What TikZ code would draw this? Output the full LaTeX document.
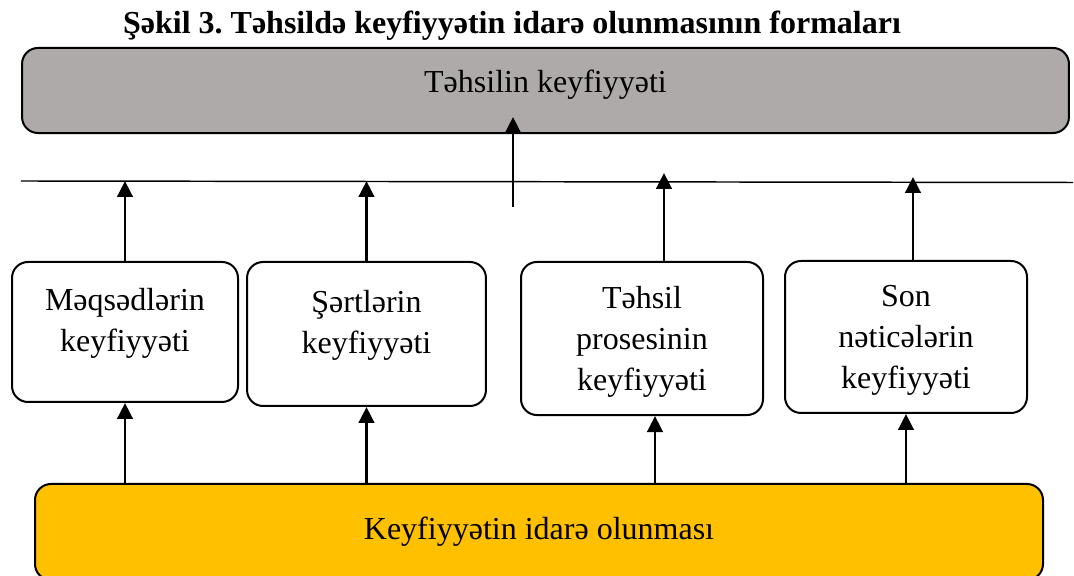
\documentclass[tikz,border=0pt]{standalone}
\usepackage{fontspec}
\setmainfont{Liberation Serif}
\frenchspacing
\usetikzlibrary{arrows.meta}

\definecolor{topgray}{HTML}{AEAAA9}
\definecolor{gold}{HTML}{FFC000}

\begin{document}
\begin{tikzpicture}[x=0.375pt,y=-0.375pt,>={Triangle[length=6pt,width=5.8pt]},
    every node/.style={font=\fontsize{12}{15.4}\selectfont},
    box/.style={draw=black,line width=0.75pt,rounded corners=6pt,align=center,inner sep=0pt},
    up/.style={->,line width=1.1pt}]
          \useasboundingbox (0,0) rectangle (1074,576);

          \node[anchor=base,font=\bfseries\fontsize{12}{15}\selectfont] (title) at (512,34)
               {Şəkil 3. Təhsildə keyfiyyətin idarə olunmasının formaları};

          \node[box,fill=topgray,minimum width=392.6pt,minimum height=31.9pt,text depth=6.8pt] (quality) at (545.5,90.5) {Təhsilin keyfiyyəti};
          \node[box,minimum width=84.75pt,minimum height=52.5pt,text depth=9.4pt] (goals)      at (125,332)   {Məqsədlərin\\keyfiyyəti};
          \node[box,minimum width=89.6pt,minimum height=54pt,text depth=9.4pt]    (conditions) at (366.5,334) {Şərtlərin\\keyfiyyəti};
          \node[box,minimum width=90.75pt,minimum height=57.4pt,text depth=0pt] (process)    at (642,338.5) {Təhsil\\prosesinin\\keyfiyyəti};
          \node[box,minimum width=90.75pt,minimum height=57pt,text depth=0pt]   (results)    at (906,337)   {Son\\nəticələrin\\keyfiyyəti};
          \node[box,fill=gold,minimum width=378pt,minimum height=36pt] (management) at (539,532) {Keyfiyyətin idarə olunması};

          % level line and free ends
          \coordinate (lineL) at (21,181);
          \coordinate (lineR) at (1073,182.5);
          \coordinate (t3) at (664,173);
          \coordinate (t4) at (913,177);
          \coordinate (b3) at (655,0);
          \coordinate (midtail) at (513,207);
          \coordinate (midtip) at (513,117);

          \draw[line width=0.55pt] (lineL) -- (lineR);

          \draw[up] (midtail) -- (midtip);
          \draw[up] (goals.north) -- (goals.north |- lineL);
          \draw[up] (conditions.north) -- (conditions.north |- lineL);
          \draw[up] (process.north -| t3) -- (t3);
          \draw[up] (results.north -| t4) -- (t4);

          \draw[up] (goals.south |- management.north) -- (goals.south);
          \draw[up] (conditions.south |- management.north) -- (conditions.south);
          \draw[up] (b3 |- management.north) -- (b3 |- process.south);
          \draw[up] (results.south |- management.north) -- (results.south);
        \end{tikzpicture}
\end{document}
